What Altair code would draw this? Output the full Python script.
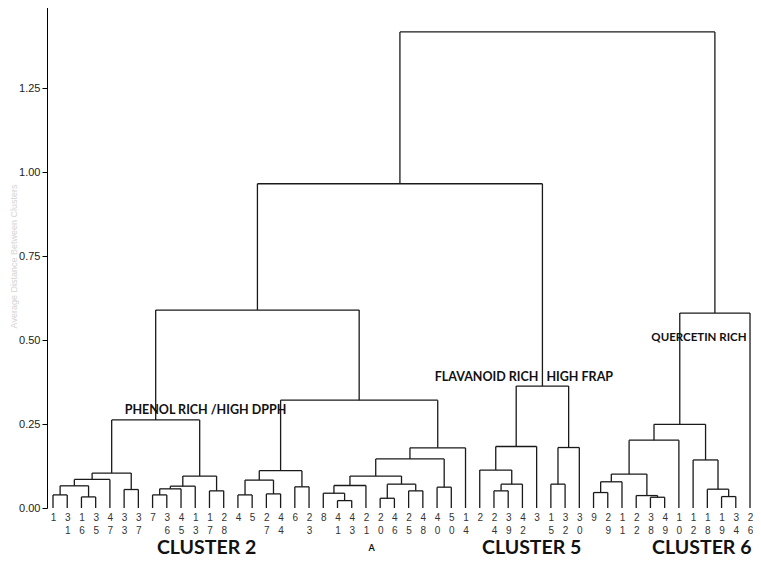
import json
import altair as alt
import pandas as pd

# Leaf order along the x axis
leaf_labels = ["1", "31", "16", "35", "47", "33", "37", "7", "36", "45", "13", "17", "28",
               "4", "5", "27", "44", "6", "23", "8", "41", "43", "21", "20", "46", "25", "48",
               "40", "50", "14",
               "2", "24", "39", "42", "3", "15", "32", "30",
               "9", "29", "11", "22", "38", "49", "10", "12", "18", "19", "34", "26"]

# Merges (agglomeration steps): name, left child, right child, height
merge_name = ["m1", "m2", "m3", "m4", "m5", "m6", "m7", "m8", "m9", "m10", "m11", "E",
              "d1", "d2", "d3", "d4", "d5", "d6", "d7", "d8", "d9", "d10", "d11", "d12",
              "d13", "d14", "d15", "D", "B",
              "c1", "c2", "c3", "c4", "c5", "c6", "C", "A",
              "q1", "q2", "q3", "q4", "q5", "q6", "q7", "q8", "q9", "q10", "Q", "root"]
merge_left = ["1", "16", "m1", "m3", "33", "m4", "7", "m7", "m8", "17", "m9", "m6",
              "4", "27", "d1", "6", "d3", "41", "8", "d7", "20", "25", "d9", "d8",
              "40", "d12", "d14", "d5", "E",
              "24", "c1", "2", "c3", "15", "c5", "c4", "B",
              "9", "q1", "38", "22", "q2", "q5", "19", "18", "12", "q6", "q10", "A"]
merge_right = ["31", "35", "m2", "47", "37", "m5", "36", "45", "13", "28", "m10", "m11",
               "5", "44", "d2", "23", "d4", "43", "d6", "21", "46", "48", "d10", "d11",
               "50", "d13", "14", "d15", "D",
               "39", "42", "c2", "3", "32", "30", "c6", "C",
               "29", "11", "49", "q3", "q4", "10", "34", "q7", "q8", "q9", "26", "Q"]
merge_height = [0.039, 0.033, 0.066, 0.085, 0.055, 0.104, 0.039, 0.057, 0.065, 0.051, 0.095, 0.262,
                0.039, 0.042, 0.083, 0.063, 0.111, 0.022, 0.044, 0.067, 0.029, 0.051, 0.071, 0.095,
                0.062, 0.146, 0.179, 0.321, 0.589,
                0.051, 0.071, 0.113, 0.183, 0.071, 0.180, 0.363, 0.965,
                0.046, 0.078, 0.032, 0.037, 0.101, 0.202, 0.034, 0.056, 0.143, 0.249, 0.580, 1.417]

y_ticks = [0.0, 0.25, 0.5, 0.75, 1.0, 1.25, 1.5]

# Annotations: text, x (leaf index units), y (distance units), font size, alignment, baseline
note_text = ["PHENOL RICH /HIGH DPPH", "FLAVANOID RICH", "HIGH FRAP", "QUERCETIN RICH",
             "CLUSTER 2", "CLUSTER 5", "CLUSTER 6", "A"]
note_x = [10.72, 34.13, 34.69, 45.41, 10.8, 33.65, 49.1, 22.4]
note_y = [0.292, 0.390, 0.390, 0.506, -0.137, -0.137, -0.137, -0.119]
note_size = [12.5, 12.5, 12.5, 11.5, 19.5, 19.5, 19.5, 9]
note_align = ["center", "right", "left", "center", "center", "center", "right", "center"]
note_base = ["middle", "middle", "middle", "middle", "alphabetic", "alphabetic", "alphabetic",
             "middle"]

# Build dendrogram segments from the merges
pos = {lab: float(i) for i, lab in enumerate(leaf_labels)}
hgt = {lab: 0.0 for lab in leaf_labels}
segs = []
for name, l, r, h in zip(merge_name, merge_left, merge_right, merge_height):
    xl, xr = pos[l], pos[r]
    segs.append({"x": xl, "x2": xl, "y": hgt[l], "y2": h})
    segs.append({"x": xl, "x2": xr, "y": h, "y2": h})
    segs.append({"x": xr, "x2": xr, "y": hgt[r], "y2": h})
    pos[name] = (xl + xr) / 2
    hgt[name] = h
seg_df = pd.DataFrame(segs)

notes_df = pd.DataFrame({"text": note_text, "x": note_x, "y": note_y,
                         "fs": note_size, "align": note_align, "base": note_base})

label_expr = "split(" + json.dumps(leaf_labels) + "[round(datum.value)], '')"

x_scale = alt.Scale(domain=[-0.422, 49.21], nice=False, zero=False)
y_scale = alt.Scale(domain=[0, 1.5], range=[500, -4], nice=False, zero=False)

x_axis = alt.Axis(values=list(range(len(leaf_labels))), labelExpr=label_expr,
                  domain=False, ticks=False, grid=False, title=None,
                  labelFontSize=10, labelFont="Liberation Sans", labelColor="#333333",
                  labelLineHeight=13, labelOverlap=False, labelPadding=4,
                  labelBound=False, labelFlush=False)
y_axis = alt.Axis(values=y_ticks, format=".2f", grid=False, tickSize=5,
                  labelFontSize=11, labelFont="Liberation Sans", labelColor="#222222",
                  labelPadding=2, domainColor="#000000", tickColor="#000000",
                  labelOverlap=False,
                  title="Average Distance Between Clusters", titleColor="#d4d4d4",
                  titleFontWeight="normal", titleFontSize=9, titlePadding=0,
                  titleFont="Liberation Sans")

lines = alt.Chart(seg_df).mark_rule(color="#1a1a1a", strokeWidth=1.3).encode(
    x=alt.X("x:Q", scale=x_scale, axis=x_axis),
    x2="x2:Q",
    y=alt.Y("y:Q", scale=y_scale, axis=y_axis),
    y2="y2:Q",
)


def note_layer(al, bl):
    return alt.Chart(notes_df).transform_filter(
        (alt.datum.align == al) & (alt.datum.base == bl)
    ).mark_text(font="Lato", fontWeight="bold", color="#111111",
                align=al, baseline=bl).encode(
        x=alt.X("x:Q", scale=x_scale, axis=x_axis),
        y=alt.Y("y:Q", scale=y_scale, axis=y_axis),
        text="text:N",
        size=alt.Size("fs:Q", scale=None, legend=None),
    )


combos = sorted(set(zip(note_align, note_base)))
chart = alt.layer(lines, *[note_layer(a, b) for a, b in combos]).properties(
    width=706, height=500,
    padding={"left": 39, "top": 0, "right": 0, "bottom": 50},
    autosize=alt.AutoSizeParams(type="none"),
    background="white",
).configure_view(stroke=None)

chart.save("out.html", embed_options={"renderer": "svg", "actions": False})
